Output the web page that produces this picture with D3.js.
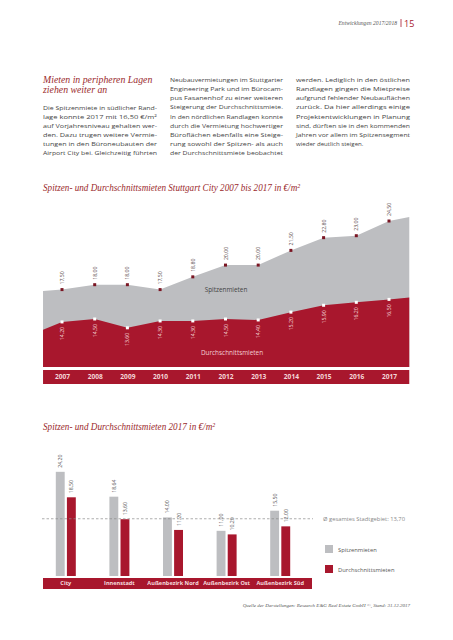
<!DOCTYPE html>
<html><head><meta charset="utf-8">
<script src="https://cdn.jsdelivr.net/npm/d3@7"></script>
<style>
html,body{margin:0;padding:0;background:#fff;}
svg{display:block;}
</style></head>
<body>
<svg id="page" width="453" height="640"></svg>
<script>
// ---------- data ----------
const years = [2007, 2008, 2009, 2010, 2011, 2012, 2013, 2014, 2015, 2016, 2017];
const spitzenmieten = [17.5, 18.0, 18.0, 17.5, 18.8, 20.0, 20.0, 21.5, 22.8, 23.0, 24.5];
const durchschnittsmieten = [14.2, 14.5, 13.6, 14.3, 14.3, 14.5, 14.4, 15.2, 15.9, 16.2, 16.5];
// area edges beyond first / last year
const randJahre = [2006.42, 2017.62];
const spitzenRand = [17.35, 24.9];
const durchschnittRand = [13.4, 16.7];

const kategorien = ["City", "Innenstadt", "Außenbezirk Nord", "Außenbezirk Ost", "Außenbezirk Süd"];
const spitzen2017 = [24.2, 18.64, 14.0, 11.0, 15.5];
const durchschnitt2017 = [18.5, 13.6, 11.2, 10.2, 12.0];
const stadtDurchschnitt = 13.7;

const reihen = ["Spitzenmieten", "Durchschnittsmieten"];

const col1 = ["Die Spitzenmiete in südlicher Rand-", "lage konnte 2017 mit 16,50 €/m²", "auf Vorjahresniveau gehalten wer-", "den. Dazu trugen weitere Vermie-", "tungen in den Büroneubauten der", "Airport City bei. Gleichzeitig führten"];
const col2 = ["Neubauvermietungen im Stuttgarter", "Engineering Park und im Bürocam-", "pus Fasanenhof zu einer weiteren", "Steigerung der Durchschnittsmiete.", "In den nördlichen Randlagen konnte", "durch die Vermietung hochwertiger", "Büroflächen ebenfalls eine Steige-", "rung sowohl der Spitzen- als auch", "der Durchschnittsmiete beobachtet"];
const col3 = ["werden. Lediglich in den östlichen", "Randlagen gingen die Mietpreise", "aufgrund fehlender Neubauflächen", "zurück. Da hier allerdings einige", "Projektentwicklungen in Planung", "sind, dürften sie in den kommenden", "Jahren vor allem im Spitzensegment", "wieder deutlich steigen."];

// ---------- styles ----------
const RED = "#a8172d";
const GREY = "#bdbec1";
const TITLE = "#9b2a2d";
const TEXT = "#444";
const SANS = "'Open Sans', 'DejaVu Sans', sans-serif";
const SERIF = "'Liberation Serif', 'DejaVu Serif', serif";
const fmt = v => d3.format(".2f")(v).replace(".", ",");

const svg = d3.select("#page");

// ---------- header ----------
svg.append("text").attr("x", 397).attr("y", 25).attr("text-anchor", "end")
  .attr("font-family", SERIF).attr("font-style", "italic").attr("font-size", 5.6)
  .attr("fill", "#555").text("Entwicklungen 2017/2018");
svg.append("line").attr("x1", 401).attr("x2", 401).attr("y1", 19).attr("y2", 27)
  .attr("stroke", RED).attr("stroke-width", 0.8);
svg.append("text").attr("x", 404).attr("y", 27)
  .attr("font-family", SANS).attr("font-size", 9).attr("fill", RED).text("15");

// ---------- text block ----------
const head = svg.append("g").attr("font-family", SERIF).attr("font-style", "italic")
  .attr("font-size", 9.8).attr("fill", TITLE);
head.append("text").attr("x", 43).attr("y", 83).text("Mieten in peripheren Lagen");
head.append("text").attr("x", 43).attr("y", 92.5).text("ziehen weiter an");

function column(lines, x, y0, w) {
  const g = svg.append("g").attr("font-family", SANS).attr("font-size", 6.1).attr("fill", TEXT);
  lines.forEach((t, i) => {
    const el = g.append("text").attr("x", x).attr("y", y0 + i * 9.15).text(t);
    const last = (i === lines.length - 1) && lines.length === 8;
    if (!last) el.attr("textLength", w).attr("lengthAdjust", "spacingAndGlyphs");
  });
}
column(col1, 43, 109.5, 114);
column(col2, 170, 82, 113);
column(col3, 296, 82, 114);

// ---------- chart 1: area ----------
svg.append("text").attr("x", 43).attr("y", 191).attr("font-family", SERIF).attr("font-style", "italic")
  .attr("font-size", 10.5).attr("fill", TITLE).attr("textLength", 257).attr("lengthAdjust", "spacingAndGlyphs")
  .text("Spitzen- und Durchschnittsmieten Stuttgart City 2007 bis 2017 in €/m²");

const x = d3.scaleLinear().domain([2007, 2017]).range([62, 389]);
const y = d3.scaleLinear().domain([9.6, 24.5]).range([367, 221]);

function withEdges(vals, edges) {
  const pts = years.map((yr, i) => [yr, vals[i]]);
  return [[randJahre[0], edges[0]], ...pts, [randJahre[1], edges[1]]];
}
const area = d3.area().x(d => x(d[0])).y0(y(9.6)).y1(d => y(d[1]));

svg.append("path").datum(withEdges(spitzenmieten, spitzenRand)).attr("d", area).attr("fill", GREY);
svg.append("path").datum(withEdges(durchschnittsmieten, durchschnittRand)).attr("d", area).attr("fill", RED);

// markers + labels
const sp = svg.append("g");
years.forEach((yr, i) => {
  const px = x(yr), py = y(spitzenmieten[i]);
  sp.append("rect").attr("x", px - 1.5).attr("y", py - 1.5).attr("width", 3).attr("height", 3).attr("fill", "#7a1522");
  sp.append("text").attr("transform", `translate(${px + 2},${py - 5}) rotate(-90)`)
    .attr("font-family", SANS).attr("font-size", 5.2).attr("fill", "#5a4a4a").text(fmt(spitzenmieten[i]));
  const qy = y(durchschnittsmieten[i]);
  sp.append("rect").attr("x", px - 1.5).attr("y", qy - 1.5).attr("width", 3).attr("height", 3).attr("fill", "#fff");
  sp.append("text").attr("transform", `translate(${px + 2},${qy + 5}) rotate(-90)`).attr("text-anchor", "end")
    .attr("font-family", SANS).attr("font-size", 5.2).attr("fill", "#f6dede").text(fmt(durchschnittsmieten[i]));
});

svg.append("text").attr("x", 226).attr("y", 292).attr("text-anchor", "middle")
  .attr("font-family", SANS).attr("font-size", 6.4).attr("fill", "#444").text(reihen[0]);
svg.append("text").attr("x", 232).attr("y", 355).attr("text-anchor", "middle")
  .attr("font-family", SANS).attr("font-size", 6.4).attr("fill", "#f2cfd3").text(reihen[1]);

// year band
svg.append("rect").attr("x", x(randJahre[0])).attr("y", 370).attr("width", x(randJahre[1]) - x(randJahre[0])).attr("height", 14).attr("fill", RED);
const xAxis = d3.axisBottom(x).tickValues(years).tickFormat(d3.format("d")).tickSize(0).tickPadding(0);
const ax = svg.append("g").attr("transform", "translate(0,374)").call(xAxis);
ax.select(".domain").remove();
ax.selectAll("text").attr("font-family", SANS).attr("font-weight", "bold").attr("font-size", 6.6)
  .attr("fill", "#f4d6d9").attr("dy", "0.71em");

// ---------- chart 2: bars ----------
svg.append("text").attr("x", 43).attr("y", 430).attr("font-family", SERIF).attr("font-style", "italic")
  .attr("font-size", 10.5).attr("fill", TITLE).attr("textLength", 172).attr("lengthAdjust", "spacingAndGlyphs")
  .text("Spitzen- und Durchschnittsmieten 2017 in €/m²");

const x0 = d3.scaleBand().domain(kategorien).range([39, 307]);
const x1 = d3.scaleBand().domain(reihen).range([16.8, 36.8]).paddingInner(0.2);
const yb = d3.scaleLinear().domain([0, 25]).range([580, 468.25]);

svg.append("clipPath").attr("id", "barclip").append("rect").attr("x", 0).attr("y", 0).attr("width", 453).attr("height", 576);

const bars = svg.append("g").attr("clip-path", "url(#barclip)");
kategorien.forEach((k, i) => {
  [[reihen[0], spitzen2017[i], GREY], [reihen[1], durchschnitt2017[i], RED]].forEach(([r, v, c]) => {
    bars.append("rect").attr("x", x0(k) + x1(r)).attr("y", yb(v)).attr("width", x1.bandwidth())
      .attr("height", yb(0) - yb(v)).attr("fill", c);
  });
});
const bl = svg.append("g");
kategorien.forEach((k, i) => {
  [[reihen[0], spitzen2017[i]], [reihen[1], durchschnitt2017[i]]].forEach(([r, v]) => {
    const cx = x0(k) + x1(r) + x1.bandwidth() / 2;
    bl.append("text").attr("transform", `translate(${cx + 2},${yb(v) - 4}) rotate(-90)`)
      .attr("font-family", SANS).attr("font-size", 5.2).attr("fill", "#555").text(fmt(v));
  });
});

// average line
svg.append("line").attr("x1", 42).attr("x2", 313).attr("y1", yb(stadtDurchschnitt)).attr("y2", yb(stadtDurchschnitt))
  .attr("stroke", "#8a8a8a").attr("stroke-width", 0.7).attr("stroke-dasharray", "2.5,2");
svg.append("text").attr("x", 323).attr("y", yb(stadtDurchschnitt) + 2).attr("font-family", SANS).attr("font-size", 5.8)
  .attr("fill", "#888").text("Ø gesamtes Stadtgebiet: " + fmt(stadtDurchschnitt));

// category band
svg.append("rect").attr("x", 43).attr("y", 578).attr("width", 269).attr("height", 11).attr("fill", RED);
const cAxis = d3.axisBottom(x0).tickSize(0).tickPadding(0);
const cxg = svg.append("g").attr("transform", "translate(0,581)").call(cAxis);
cxg.select(".domain").remove();
cxg.selectAll("text").attr("font-family", SANS).attr("font-weight", "bold").attr("font-size", 5.6)
  .attr("fill", "#f6dcdf").attr("dy", "0.71em");

// legend
const lg = svg.append("g");
reihen.forEach((r, i) => {
  lg.append("rect").attr("x", 325).attr("y", 545 + i * 20).attr("width", 8).attr("height", 8).attr("fill", i ? RED : GREY);
  lg.append("text").attr("x", 338).attr("y", 551.5 + i * 20).attr("font-family", SANS).attr("font-size", 5.8)
    .attr("fill", "#555").text(r);
});

// source
svg.append("text").attr("x", 410).attr("y", 607).attr("text-anchor", "end").attr("font-family", SERIF)
  .attr("font-style", "italic").attr("font-size", 5).attr("fill", "#555")
  .text("Quelle der Darstellungen: Research E&G Real Estate GmbH ©, Stand: 31.12.2017");
</script>
</body></html>
